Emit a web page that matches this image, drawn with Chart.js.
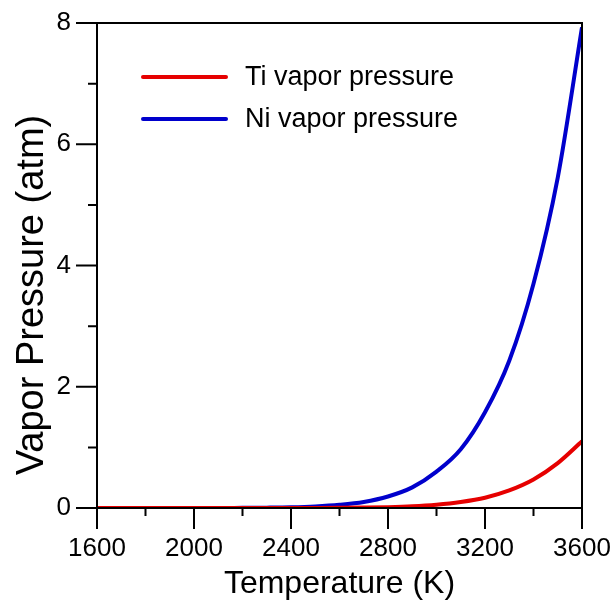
<!DOCTYPE html>
<html>
<head>
<meta charset="utf-8">
<script src="https://cdn.jsdelivr.net/npm/chart.js@4"></script>
<style>
  html, body { margin: 0; padding: 0; background: #fff; }
  #wrap { width: 616px; height: 602px; }
</style>
</head>
<body>
<div id="wrap"><canvas id="vaporChart"></canvas></div>
<script>
// values
const temperatures = [1600, 1700, 1800, 1900, 2000, 2100, 2200, 2300, 2400, 2500, 2600,
                      2700, 2800, 2900, 3000, 3100, 3200, 3300, 3400, 3500, 3600];
const tiPressure = [0, 0, 0, 0, 0, 0, 0, 0, 0, 0.001, 0.003,
                    0.007, 0.014, 0.028, 0.055, 0.1, 0.17, 0.29, 0.47, 0.74, 1.1];
const niPressure = [0, 0, 0, 0, 0, 0, 0.003, 0.006, 0.012, 0.026, 0.053,
                    0.1, 0.19, 0.34, 0.6, 0.97, 1.58, 2.43, 3.7, 5.45, 7.93];
const seriesLabels = ["Ti vapor pressure", "Ni vapor pressure"];
const seriesColors = ["#e60000", "#0000cc"];
const xMajorTicks = [1600, 2000, 2400, 2800, 3200, 3600];
const xMinorTicks = [1800, 2200, 2600, 3000, 3400];
const yMajorTicks = [0, 2, 4, 6, 8];
const yMinorTicks = [1, 3, 5, 7];

const FONT = "'Liberation Sans', Arial, sans-serif";

function toPoints(values) {
  return temperatures.map((t, i) => ({ x: t, y: values[i] }));
}

// frame, tick marks, axis titles and legend
const framePlugin = {
  id: "frame",
  afterDraw(chart) {
    const ctx = chart.ctx;
    const area = chart.chartArea;
    const xs = chart.scales.x;
    const ys = chart.scales.y;
    ctx.save();
    ctx.strokeStyle = "#000";
    ctx.lineWidth = 2;
    ctx.strokeRect(area.left, area.top, area.right - area.left, area.bottom - area.top);

    ctx.beginPath();
    xMajorTicks.forEach((v) => {
      const px = xs.getPixelForValue(v);
      ctx.moveTo(px, area.bottom);
      ctx.lineTo(px, area.bottom + 21);
    });
    xMinorTicks.forEach((v) => {
      const px = xs.getPixelForValue(v);
      ctx.moveTo(px, area.bottom);
      ctx.lineTo(px, area.bottom + 8);
    });
    yMajorTicks.forEach((v) => {
      const py = ys.getPixelForValue(v);
      ctx.moveTo(area.left, py);
      ctx.lineTo(area.left - 21, py);
    });
    yMinorTicks.forEach((v) => {
      const py = ys.getPixelForValue(v);
      ctx.moveTo(area.left, py);
      ctx.lineTo(area.left - 9, py);
    });
    ctx.stroke();

    // axis titles
    ctx.fillStyle = "#000";
    ctx.font = "32px " + FONT;
    ctx.textAlign = "center";
    ctx.textBaseline = "alphabetic";
    ctx.fillText("Temperature (K)", (area.left + area.right) / 2, 593);

    ctx.save();
    ctx.translate(43, 295);
    ctx.rotate(-Math.PI / 2);
    ctx.font = "38px " + FONT;
    ctx.fillText("Vapor Pressure (atm)", 0, 0);
    ctx.restore();

    // legend
    ctx.font = "27px " + FONT;
    ctx.textAlign = "left";
    ctx.textBaseline = "middle";
    ctx.lineCap = "round";
    chart.data.datasets.forEach((ds, i) => {
      const y = 77 + i * 42;
      ctx.strokeStyle = ds.borderColor;
      ctx.lineWidth = 4;
      ctx.beginPath();
      ctx.moveTo(143, y);
      ctx.lineTo(226, y);
      ctx.stroke();
      ctx.fillText(ds.label, 245, y + 1);
    });
    ctx.restore();
  }
};

new Chart(document.getElementById("vaporChart"), {
  type: "line",
  data: {
    datasets: [
      {
        label: seriesLabels[0],
        data: toPoints(tiPressure),
        borderColor: seriesColors[0],
        borderWidth: 4,
        pointRadius: 0,
        cubicInterpolationMode: "monotone",
      },
      {
        label: seriesLabels[1],
        data: toPoints(niPressure),
        borderColor: seriesColors[1],
        borderWidth: 4,
        pointRadius: 0,
        cubicInterpolationMode: "monotone",
      },
    ],
  },
  options: {
    responsive: true,
    maintainAspectRatio: false,
    animation: false,
    layout: { padding: { top: 23, right: 34, left: 0, bottom: 0 } },
    plugins: {
      legend: { display: false },
      tooltip: { enabled: false },
    },
    scales: {
      x: {
        type: "linear",
        min: 1600,
        max: 3600,
        afterFit(scale) {
          scale.height = 94;
          scale.paddingLeft = 0;
          scale.paddingRight = 0;
        },
        grid: { display: false, drawTicks: false, tickLength: 0 },
        border: { display: false },
        ticks: {
          stepSize: 400,
          autoSkip: false,
          maxRotation: 0,
          padding: 25,
          color: "#000",
          font: { family: FONT, size: 26 },
          callback: (v) => String(v),
        },
      },
      y: {
        min: 0,
        max: 8,
        afterFit(scale) {
          scale.width = 97;
          scale.paddingTop = 0;
          scale.paddingBottom = 0;
        },
        grid: { display: false, drawTicks: false, tickLength: 0 },
        border: { display: false },
        ticks: {
          stepSize: 2,
          padding: 26,
          color: "#000",
          font: { family: FONT, size: 26 },
          callback: (v) => String(v),
        },
      },
    },
  },
  plugins: [framePlugin],
});
</script>
</body>
</html>
